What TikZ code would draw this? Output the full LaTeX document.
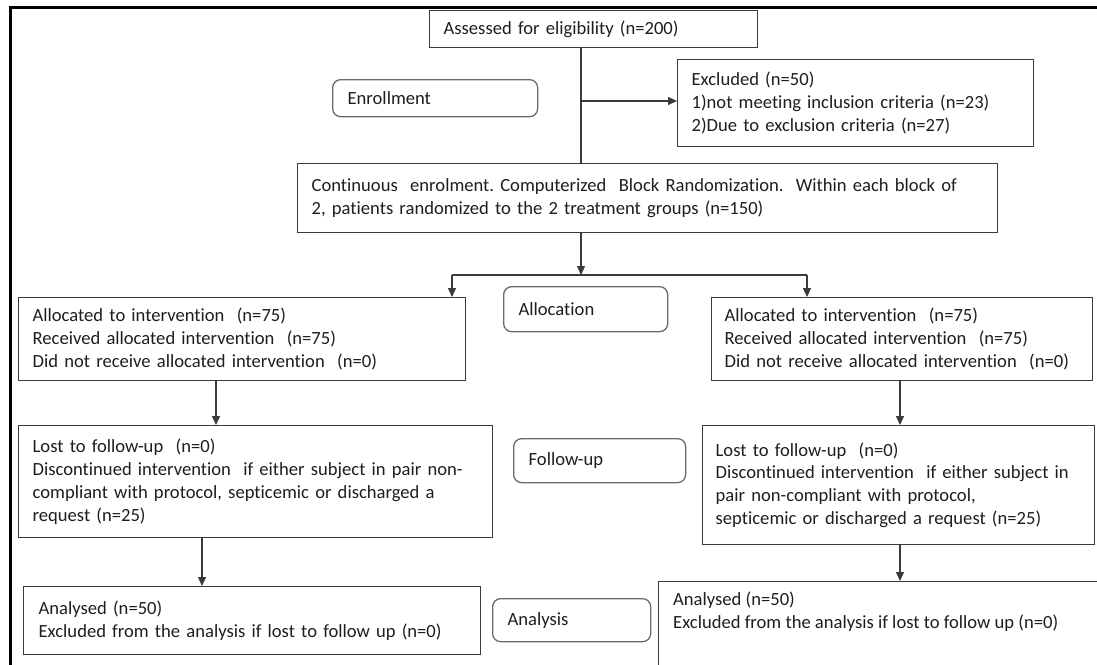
\documentclass[tikz,border=0pt]{standalone}
\usepackage{fontspec}
\setmainfont{Carlito}[Ligatures=NoCommon]
\usetikzlibrary{arrows.meta}

\definecolor{boxline}{HTML}{3A3A3A}
\definecolor{roundline}{HTML}{6A6A6A}
\definecolor{ink}{HTML}{1E1E1E}

\begin{document}
\begin{tikzpicture}[x=1pt,y=-1pt,
  every node/.style={font=\fontsize{18.6}{22.8}\selectfont, text=ink},
  box/.style={draw=boxline, line width=1.3pt, inner xsep=14pt, inner ysep=0pt, align=left, anchor=north west},
  stage/.style={draw=roundline, line width=1.3pt, rounded corners=8pt, inner xsep=15pt, inner ysep=0pt, align=left, anchor=north west},
  link/.style={draw=boxline, line width=1.3pt},
  arr/.style={link, -{Triangle[length=9pt,width=8pt]}}]

\useasboundingbox (0,0) rectangle (1097,664);
\clip (0,0) rectangle (1097,664);

\draw[line width=3pt] (10,670) -- (10,7) -- (1105,7);

\node[box, minimum width=328pt, minimum height=37pt, text width=300pt] (assess) at (429,10) {Assessed for eligibility (n=200)};
\node[stage, minimum width=205pt, minimum height=37pt, text width=175pt] (enroll) at (332,79) {Enrollment};
\node[box, minimum width=356pt, minimum height=87pt, text width=328pt] (excl) at (677,59) {Excluded (n=50)\\1)not meeting inclusion criteria (n=23)\\2)Due to exclusion criteria (n=27)};
\node[box, minimum width=700pt, minimum height=69pt, text width=672pt] (contin) at (297,163) {Continuous\ \ enrolment.\ Computerized\ \ Block Randomization.\ \ Within each block of\\2, patients randomized to the 2 treatment groups (n=150)};

\node[box, minimum width=447pt, minimum height=83pt, text width=419pt] (allocL) at (18,297) {Allocated to intervention\ \ (n=75)\\Received allocated intervention\ \ (n=75)\\Did not receive allocated intervention\ \ (n=0)};
\node[stage, minimum width=164pt, minimum height=45pt, text width=134pt] (alloc) at (503,286) {Allocation};
\node[box, minimum width=381pt, minimum height=83pt, text width=355pt, inner xsep=13pt] (allocR) at (711,297) {Allocated to intervention\ \ (n=75)\\Received allocated intervention\ \ (n=75)\\Did not receive allocated intervention\ \ (n=0)};

\node[box, minimum width=474pt, minimum height=112pt, text width=446pt] (followL) at (18,425) {Lost to follow-up\ \ (n=0)\\Discontinued intervention\ \ if either subject in pair non-\\compliant with protocol, septicemic or discharged a\\request (n=25)};
\node[stage, minimum width=172pt, minimum height=44pt, text width=142pt] (follow) at (513,438) {Follow-up};
\node[box, minimum width=392pt, minimum height=119pt, text width=366pt, inner xsep=13pt] (followR) at (702,425) {Lost to follow-up\ \ (n=0)\\Discontinued intervention\ \ if either subject in\\pair non-compliant with protocol,\\septicemic or discharged a request (n=25)};

\node[box, minimum width=457pt, minimum height=68pt, text width=427pt, inner xsep=15pt] (analL) at (23,586) {Analysed (n=50)\\Excluded from the analysis if lost to follow up (n=0)};
\node[stage, minimum width=158pt, minimum height=43pt, text width=128pt] (analysis) at (492,598) {Analysis};
\node[box, minimum width=460pt, minimum height=110pt] (analR) at (658,581) {};
\node[anchor=north west, align=left, inner sep=0pt] (analRtext) at ([xshift=15pt,yshift=-11pt]analR.north west) {Analysed (n=50)\\Excluded from the analysis if lost to follow up (n=0)};

\coordinate (trunk) at (581,101);
\coordinate (split) at (581,275);
\coordinate (splitL) at (452,275);
\coordinate (splitR) at (807,275);
\coordinate (colL) at (216,400);
\coordinate (colLL) at (202,560);
\coordinate (colR) at (900,400);

\draw[link] (assess.south -| trunk) -- (contin.north -| trunk);
\draw[arr] (trunk) -- (excl.west |- trunk);
\draw[arr] (contin.south -| split) -- (split);
\draw[link] (splitL) -- (splitR);
\draw[arr] (splitL) -- (allocL.north -| splitL);
\draw[arr] (splitR) -- (allocR.north -| splitR);
\draw[arr] (allocL.south -| colL) -- (followL.north -| colL);
\draw[arr] (followL.south -| colLL) -- (analL.north -| colLL);
\draw[arr] (allocR.south -| colR) -- (followR.north -| colR);
\draw[arr] (followR.south -| colR) -- (analR.north -| colR);

\end{tikzpicture}
\end{document}
